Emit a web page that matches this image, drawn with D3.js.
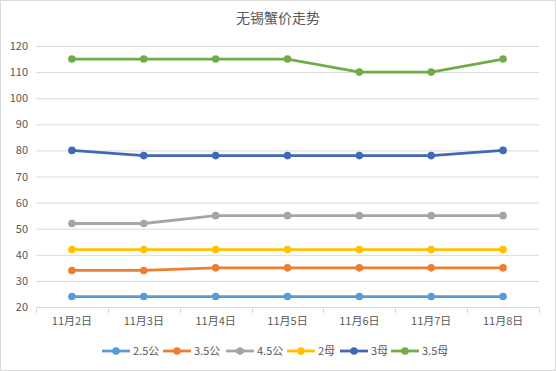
<!DOCTYPE html>
<html><head><meta charset="utf-8">
<script src="https://cdn.jsdelivr.net/npm/d3@7"></script>
<style>body{margin:0;background:#fff;}text{font-family:"Noto Sans CJK SC","Microsoft YaHei",sans-serif;}</style>
</head><body><svg id="c" width="556" height="371"></svg>
<script>
const categories = ["11月2日","11月3日","11月4日","11月5日","11月6日","11月7日","11月8日"];
const seriesNames = ["2.5公","3.5公","4.5公","2母","3母","3.5母"];
const colors = ["#5B9BD5","#ED7D31","#A5A5A5","#FFC000","#4169B5","#70AD47"];
const s25g = [24,24,24,24,24,24,24];
const s35g = [34,34,35,35,35,35,35];
const s45g = [52,52,55,55,55,55,55];
const s2m = [42,42,42,42,42,42,42];
const s3m = [80,78,78,78,78,78,80];
const s35m = [115,115,115,115,110,110,115];
const yTicks = [20,30,40,50,60,70,80,90,100,110,120];
const title = "无锡蟹价走势";
const allSeries = [s25g,s35g,s45g,s2m,s3m,s35m];

const svg = d3.select("#c");
svg.append("rect").attr("x",0.5).attr("y",0.5).attr("width",555).attr("height",370).attr("fill","#fff").attr("stroke","#d9d9d9");

const x = d3.scaleBand().domain(categories).range([36,539]);
const y = d3.scaleLinear().domain([20,120]).range([307,46]);

svg.append("text").attr("x",278).attr("y",23).attr("text-anchor","middle").attr("font-size",14).attr("fill","#595959").text(title);

const g = svg.append("g");
g.selectAll("line.grid").data(yTicks.slice(1)).enter().append("line")
 .attr("x1",36).attr("x2",539).attr("y1",d=>y(d)+0.5).attr("y2",d=>y(d)+0.5).attr("stroke","#d9d9d9");
g.selectAll("text.yl").data(yTicks).enter().append("text")
 .attr("x",28).attr("y",d=>y(d)+4).attr("text-anchor","end").attr("font-size",11).attr("fill","#595959").text(d=>d);

const xAxis = svg.append("g").attr("transform","translate(0,307)")
 .call(d3.axisBottom(x).tickSize(0).tickPadding(10));
xAxis.select(".domain").attr("stroke","#d9d9d9").attr("d","M36.5,0.5H539");
xAxis.selectAll("text").attr("font-size",11).attr("fill","#595959").attr("font-family","Noto Sans CJK SC");
const bounds = categories.map(c=>x(c)).concat([x.range()[1]]);
xAxis.selectAll("line.tk").data(bounds).enter().append("line").attr("class","tk")
 .attr("x1",d=>Math.round(d)+0.5).attr("x2",d=>Math.round(d)+0.5).attr("y1",0).attr("y2",6).attr("stroke","#d9d9d9");

const cx = c=>x(c)+x.bandwidth()/2;
const line = d3.line().x((d,i)=>cx(categories[i])).y(d=>y(d));
allSeries.forEach((s,k)=>{
  svg.append("path").datum(s).attr("d",line).attr("fill","none").attr("stroke",colors[k]).attr("stroke-width",2.8);
  svg.selectAll(null).data(s).enter().append("circle")
   .attr("cx",(d,i)=>cx(categories[i])).attr("cy",d=>y(d)).attr("r",3.8).attr("fill",colors[k]);
});

// legend
const legX = [102,163,226,287,340,391];
const lg = svg.append("g");
seriesNames.forEach((n,k)=>{
  const lx = legX[k];
  lg.append("line").attr("x1",lx).attr("x2",lx+28).attr("y1",351).attr("y2",351).attr("stroke",colors[k]).attr("stroke-width",2.8);
  lg.append("circle").attr("cx",lx+14).attr("cy",351).attr("r",3.8).attr("fill",colors[k]);
  lg.append("text").attr("x",lx+31).attr("y",355).attr("font-size",11).attr("fill","#595959").text(n);
});
</script></body></html>
